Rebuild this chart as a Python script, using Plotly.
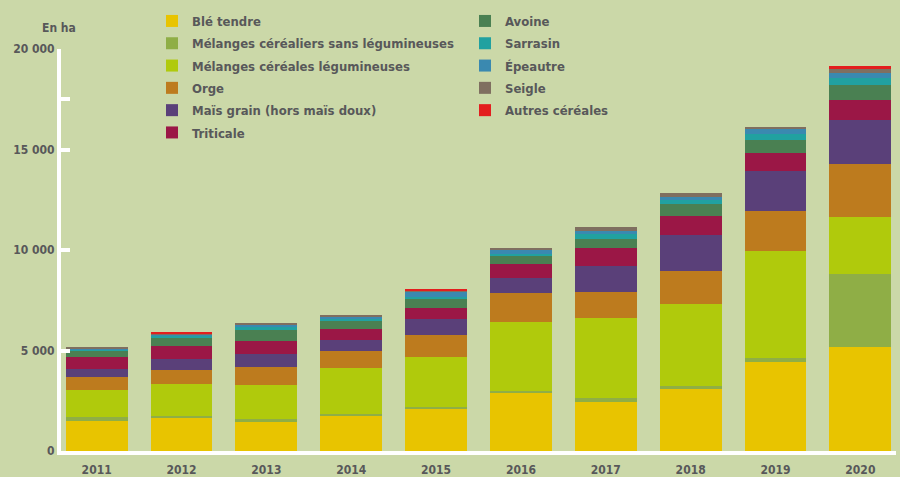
import plotly.graph_objects as go

years = ["2011", "2012", "2013", "2014", "2015", "2016", "2017", "2018", "2019", "2020"]

ble_tendre = [1500, 1650, 1450, 1750, 2100, 2890, 2440, 3085, 4430, 5170]
melanges_sans_leg = [200, 100, 150, 100, 100, 100, 200, 150, 200, 3630]
melanges_leg = [1350, 1590, 1700, 2300, 2500, 3430, 3980, 4080, 5320, 2840]
orge = [650, 700, 900, 850, 1050, 1450, 1290, 1640, 1990, 2640]
mais_grain = [400, 550, 650, 500, 800, 750, 1290, 1790, 1990, 2190]
triticale = [600, 650, 600, 550, 550, 700, 900, 945, 900, 1000]
avoine = [285, 400, 550, 450, 450, 400, 450, 600, 650, 750]
sarrasin = [80, 80, 150, 70, 120, 80, 230, 200, 285, 350]
epeautre = [35, 100, 100, 80, 250, 200, 165, 150, 265, 250]
seigle = [80, 30, 100, 100, 80, 115, 200, 200, 100, 200]
autres = [0, 50, 0, 0, 50, 0, 0, 0, 0, 150]

series = [
    ("Blé tendre", ble_tendre, "#e8c400", "legend"),
    ("Mélanges céréaliers sans légumineuses", melanges_sans_leg, "#8fae46", "legend"),
    ("Mélanges céréales légumineuses", melanges_leg, "#b0ca0c", "legend"),
    ("Orge", orge, "#bd7b1e", "legend"),
    ("Maïs grain (hors maïs doux)", mais_grain, "#5a4079", "legend"),
    ("Triticale", triticale, "#9b1746", "legend"),
    ("Avoine", avoine, "#4a8052", "legend2"),
    ("Sarrasin", sarrasin, "#21a1a0", "legend2"),
    ("Épeautre", epeautre, "#3a89b0", "legend2"),
    ("Seigle", seigle, "#7f6f60", "legend2"),
    ("Autres céréales", autres, "#e31e1e", "legend2"),
]

ytick_vals = [0, 5000, 10000, 15000, 17500, 20000]
ytick_text = ["0", "5 000", "10 000", "15 000", "", "20 000"]

FONT = "DejaVu Sans Condensed, Liberation Sans Narrow, sans-serif"
TXT = "#58585a"
BG = "#cbd8a8"

fig = go.Figure()
for i, (name, vals, color, leg) in enumerate(series):
    fig.add_trace(go.Bar(
        x=years, y=vals, name=name, legend=leg, legendgroup="g%d" % i,
        marker=dict(color=color, line=dict(width=0)),
    ))

legend_common = dict(
    orientation="v", traceorder="grouped", bgcolor="rgba(0,0,0,0)",
    borderwidth=0, xanchor="left", yanchor="top",
    font=dict(family=FONT, size=13, color=TXT, weight="bold"),
    itemclick=False, itemdoubleclick=False, tracegroupgap=2.4,
)

# plot area target: x 61..896 (835 px), y 49..451 (402 px)
fig.update_layout(
    width=900, height=477,
    paper_bgcolor=BG, plot_bgcolor=BG,
    margin=dict(l=61, r=4, t=49, b=26),
    barmode="stack", bargap=0.27,
    font=dict(family=FONT, color=TXT, weight="bold"),
    legend=dict(x=(152 - 61) / 835, y=1 + (49 - 6) / 402, **legend_common),
    legend2=dict(x=(465 - 61) / 835, y=1 + (49 - 6) / 402, **legend_common),
    xaxis=dict(
        type="category",
        range=[-0.42, 9.42], showgrid=False, zeroline=False,
        showline=True, linecolor="white", linewidth=4,
        ticks="outside", ticklen=5, tickcolor="rgba(0,0,0,0)",
        tickfont=dict(family=FONT, size=12, color=TXT, weight="bold"),
        automargin=False, fixedrange=True,
    ),
    yaxis=dict(
        range=[0, 20000], showgrid=False, zeroline=False,
        showline=True, linecolor="white", linewidth=4,
        tickvals=ytick_vals, ticktext=ytick_text,
        ticks="inside", ticklen=9, tickwidth=4, tickcolor="white",
        tickfont=dict(family=FONT, size=12, color=TXT, weight="bold"),
        automargin=False, fixedrange=True,
    ),
    annotations=[dict(
        text="En ha", xref="paper", yref="paper", x=(59 - 61) / 835, y=1 + (49 - 28) / 402,
        xanchor="center", yanchor="middle", showarrow=False,
        font=dict(family=FONT, size=12, color=TXT, weight="bold"),
    )],
)

fig.write_html(
    "out.html",
    config={"displayModeBar": False},
    post_script="document.body.style.margin='0';document.body.style.background='%s';" % BG,
)
